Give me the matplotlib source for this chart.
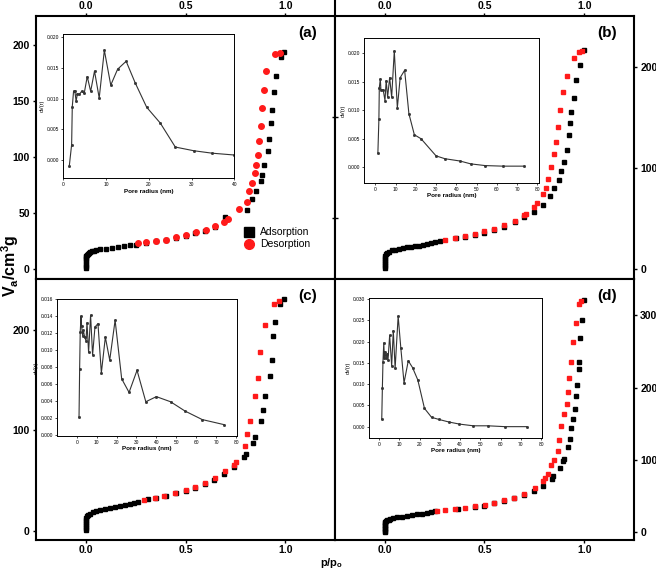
import matplotlib
matplotlib.use("Agg")
import matplotlib.pyplot as plt
from matplotlib.lines import Line2D
import numpy as np

plt.rcParams["font.family"] = ["Liberation Sans", "DejaVu Sans"]

# ---- isotherm data (p/p0, volume) ----
a_ads_p = [0.0, 0.0, 0.0, 0.0, 0.0, 0.0, 0.002, 0.005, 0.01, 0.015, 0.02, 0.03, 0.04, 0.05, 0.07, 0.1,
           0.13, 0.16, 0.19, 0.22, 0.25, 0.3, 0.35, 0.4, 0.45, 0.5, 0.55, 0.6, 0.65, 0.7, 0.81, 0.836,
           0.854, 0.878, 0.886, 0.896, 0.913, 0.921, 0.928, 0.936, 0.945, 0.955, 0.978, 0.993]
a_ads_v = [0.5, 2.5, 4.5, 6.5, 8.5, 10, 11.2, 12.3, 13.2, 14, 14.6, 15.4, 16, 16.5, 17.2, 17.9,
           18.6, 19.4, 20.1, 20.8, 21.5, 22.8, 24.3, 25.6, 27.5, 29.5, 31.8, 34, 37, 46, 52.7, 62.5,
           69, 78, 84, 93, 105, 115.6, 130, 142, 158, 172, 189, 194]
a_des_p = [0.26, 0.30, 0.35, 0.40, 0.451, 0.501, 0.551, 0.601, 0.648, 0.695, 0.712, 0.767, 0.807,
           0.821, 0.834, 0.851, 0.854, 0.863, 0.871, 0.878, 0.886, 0.894, 0.903, 0.951, 0.975]
a_des_v = [22.5, 23.4, 24.9, 26, 28, 30.2, 32.6, 34.7, 37.7, 42, 44, 53, 60, 69.5, 77, 85.6, 93,
           102, 114, 128, 144, 160, 177, 192, 192.5]

b_ads_p = [0, 0, 0, 0, 0, 0, 0, 0.005, 0.01, 0.02, 0.035, 0.05, 0.07, 0.09, 0.11, 0.13, 0.15, 0.17,
           0.19, 0.21, 0.23, 0.25, 0.277, 0.357, 0.4, 0.45, 0.5, 0.55, 0.6, 0.651, 0.698, 0.746, 0.792,
           0.829, 0.85, 0.872, 0.886, 0.898, 0.912, 0.922, 0.927, 0.935, 0.947, 0.96, 0.977, 1.0]
b_ads_v = [0.5, 2.5, 4.5, 6.5, 8.5, 10.5, 12.5, 14.5, 15.8, 17, 18, 18.7, 19.5, 20.3, 21, 21.6, 22.2,
           22.8, 23.5, 24.2, 25, 26, 27.5, 30, 31.5, 33.5, 35.5, 38, 41.5, 46.4, 50.7, 56, 63, 72, 79.5,
           88, 97, 106, 117, 132, 144, 155, 169, 187, 202, 216]
b_des_p = [0.302, 0.352, 0.402, 0.452, 0.498, 0.55, 0.6, 0.651, 0.698, 0.708, 0.746, 0.763, 0.792,
           0.809, 0.819, 0.834, 0.85, 0.859, 0.869, 0.879, 0.895, 0.912, 0.95, 0.975, 0.987]
b_des_v = [28.5, 30, 32, 34.4, 37, 39.7, 43, 47.4, 53, 54.6, 61, 65, 74, 80, 89, 100.7, 113.6, 125,
           139.7, 156.6, 175, 191, 208, 214, 215]

c_ads_p = [0, 0, 0, 0, 0, 0, 0, 0.005, 0.01, 0.02, 0.035, 0.05, 0.07, 0.095, 0.12, 0.145, 0.17, 0.195,
           0.22, 0.24, 0.263, 0.313, 0.35, 0.4, 0.45, 0.5, 0.55, 0.6, 0.645, 0.693, 0.745, 0.794, 0.802,
           0.837, 0.848, 0.879, 0.89, 0.9, 0.925, 0.933, 0.941, 0.951, 0.975, 0.992]
c_ads_v = [0.5, 2.5, 4.5, 6.5, 8.5, 10.5, 12.5, 14.5, 15.8, 17.2, 18.5, 19.5, 20.5, 21.7, 22.8, 23.9,
           25, 26, 27, 27.9, 28.8, 31.5, 33, 35, 37.5, 40, 43, 47, 51, 57, 64, 73.5, 76.5, 87.7, 93.4,
           109, 120.5, 134.4, 154.6, 170.5, 193.7, 208, 226.5, 230.8]
c_des_p = [0.293, 0.347, 0.394, 0.446, 0.5, 0.548, 0.596, 0.648, 0.7, 0.745, 0.754, 0.796, 0.809,
           0.824, 0.851, 0.863, 0.874, 0.901, 0.945, 0.968]
c_des_v = [31, 33, 35, 38, 41, 43.7, 47.7, 52.6, 59.6, 66, 69, 85, 96.7, 109, 134.8, 152.6, 178.5,
           205, 226.5, 229.5]

d_ads_p = [0, 0, 0, 0, 0, 0, 0, 0, 0.005, 0.01, 0.02, 0.028, 0.04, 0.06, 0.085, 0.11, 0.135, 0.16,
           0.185, 0.21, 0.23, 0.25, 0.365, 0.45, 0.5, 0.55, 0.6, 0.65, 0.696, 0.748, 0.792, 0.839,
           0.846, 0.88, 0.892, 0.897, 0.92, 0.928, 0.935, 0.944, 0.952, 0.96, 0.963, 0.972, 0.975,
           0.98, 0.987, 1.0]
d_ads_v = [0.5, 2.5, 4.5, 6.5, 8.5, 10.5, 12.5, 14.5, 15.5, 16.5, 17.3, 18, 19.2, 20.6, 21.6, 22.5,
           23.6, 24.8, 25.9, 27, 28.3, 29.8, 31.7, 35, 37, 40, 43.5, 46.8, 51.4, 56.9, 63.8, 73, 77.5,
           89, 98, 101, 118, 129.4, 144, 157, 171, 188.5, 203.7, 225, 235, 268, 293.6, 320.6]
d_des_p = [0.261, 0.304, 0.354, 0.402, 0.452, 0.502, 0.547, 0.596, 0.648, 0.698, 0.754, 0.792, 0.804,
           0.817, 0.834, 0.85, 0.869, 0.875, 0.885, 0.897, 0.912, 0.917, 0.924, 0.932, 0.942, 0.958,
           0.972, 0.983]
d_des_v = [29.4, 30.7, 31.7, 33.5, 35.8, 37.6, 40.8, 44, 46.8, 53.2, 60.6, 71.6, 75.2, 80.7, 92.7,
           99.5, 112.4, 128, 146.8, 163.8, 177.5, 194.5, 213.3, 235.3, 263.3, 289, 315, 319.7]

# ---- pore size distributions (radius nm, dV(r)) ----
a_r = [1.4, 1.95, 2.1, 2.4, 2.7, 3.0, 3.3, 3.75, 4.3, 4.9, 5.6, 6.4, 7.3, 8.4, 9.6, 11.1, 12.7, 14.7,
       16.8, 19.5, 22.7, 26.2, 30.5, 34.8, 40]
a_dv = [-0.001, 0.0025, 0.0087, 0.0112, 0.0112, 0.0096, 0.0108, 0.0107, 0.0112, 0.0109, 0.0136, 0.0112,
        0.0145, 0.0101, 0.0179, 0.0122, 0.0148, 0.0161, 0.0126, 0.0086, 0.0060, 0.0021, 0.0015, 0.0011,
        0.0008]
b_r = [1.3, 1.8, 2.0, 2.5, 2.8, 3.9, 4.8, 5.4, 6.1, 7.1, 8.1, 9.4, 10.9, 12.3, 14.5, 16.6, 19.3, 22.6,
       30.0, 34.4, 41.8, 47.1, 54.2, 62.9, 73.4]
b_dv = [0.0025, 0.0084, 0.0139, 0.0155, 0.0136, 0.0136, 0.0117, 0.0152, 0.0123, 0.0157, 0.0123, 0.0204,
        0.0104, 0.0157, 0.0170, 0.0094, 0.0057, 0.0050, 0.0020, 0.0015, 0.0011, 0.0006, 0.0003, 0.0002,
        0.0002]
c_r = [1.2, 1.5, 1.8, 2.2, 2.5, 3.0, 3.4, 4.0, 4.7, 5.2, 6.0, 7.0, 8.0, 9.2, 10.7, 12.4, 14.4, 16.6,
       19.3, 22.6, 26.3, 30.3, 34.7, 40.0, 47.1, 54.4, 63.0, 74.0]
c_dv = [0.0021, 0.0077, 0.0121, 0.0140, 0.0128, 0.0117, 0.0123, 0.0115, 0.0111, 0.0132, 0.0097, 0.0141,
        0.0094, 0.0127, 0.0131, 0.0073, 0.0115, 0.0088, 0.0135, 0.0066, 0.0050, 0.0076, 0.0039, 0.0045,
        0.0039, 0.0028, 0.0018, 0.0012]
d_r = [1.3, 1.6, 1.9, 2.3, 2.6, 2.9, 3.4, 3.9, 4.4, 5.2, 6.2, 7.0, 7.9, 9.4, 10.7, 12.3, 14.4, 16.5,
       19.1, 22.4, 25.9, 29.5, 34.4, 39.7, 46.5, 53.8, 62.1, 72.9]
d_dv = [0.0017, 0.0090, 0.0153, 0.0197, 0.0161, 0.0176, 0.0161, 0.0172, 0.0157, 0.0215, 0.0143, 0.0226,
        0.0137, 0.0260, 0.0186, 0.0103, 0.0155, 0.0139, 0.0110, 0.0043, 0.0022, 0.0017, 0.0011, 0.0006,
        0.0002, 0.0002, 0.0000, 0.0000]

W, H = 656, 573
fig = plt.figure(figsize=(W / 100, H / 100), dpi=100)


def box(l, t, r, b):
    return [l / W, 1 - b / H, (r - l) / W, (b - t) / H]


def main_panel(rect, ylim, yticks, yside, xside, label):
    ax = fig.add_axes(box(*rect))
    ax.set_xlim(-0.25, 1.25)
    ax.set_ylim(*ylim)
    ax.set_xticks([0.0, 0.5, 1.0])
    ax.set_yticks(yticks)
    for s in ax.spines.values():
        s.set_linewidth(1.5)
    ax.tick_params(axis="x", direction="out", length=2, width=1, labelsize=7.5, pad=1.5,
                   top=(xside == "top"), bottom=(xside == "bottom"),
                   labeltop=(xside == "top"), labelbottom=(xside == "bottom"))
    ax.tick_params(axis="y", direction="out", length=2.5, width=1, labelsize=7.5, pad=2,
                   left=(yside == "left"), right=(yside == "right"),
                   labelleft=(yside == "left"), labelright=(yside == "right"))
    ax.xaxis.set_major_formatter(plt.FuncFormatter(lambda v, _: f"{v:.1f}"))
    for t in ax.get_xticklabels() + ax.get_yticklabels():
        t.set_fontweight("bold")
    ax.text(0.91, 0.935, label, transform=ax.transAxes, fontsize=11, fontweight="bold",
            ha="center", va="center")
    return ax


def inset(rect, r, dv, xlim, ylim, xticks, yticks):
    ax = fig.add_axes(box(*rect))
    ax.plot(r, dv, color="#333333", lw=0.8, marker="s", ms=1.0)
    ax.set_xlim(*xlim)
    ax.set_ylim(*ylim)
    ax.set_xticks(xticks)
    ax.set_yticks(yticks)
    ax.yaxis.set_major_formatter(plt.FuncFormatter(lambda v, _: f"{v:.3f}"))
    ax.tick_params(labelsize=3.5, length=1.5, width=0.5, pad=1.5)
    for s in ax.spines.values():
        s.set_linewidth(0.7)
    ax.set_xlabel("Pore radius (nm)", fontsize=4.5, fontweight="bold", labelpad=1)
    ax.set_ylabel("dV(r)", fontsize=4, labelpad=1.5)
    return ax


panels = [
    ((36, 16, 335, 279), (-9.3, 226), [0, 50, 100, 150, 200], "left", "top", "(a)", "o",
     a_ads_p, a_ads_v, a_des_p, a_des_v),
    ((335, 16, 634, 279), (-10.2, 250), [0, 100, 200], "right", "top", "(b)", "s",
     b_ads_p, b_ads_v, b_des_p, b_des_v),
    ((36, 279, 335, 540), (-9.2, 251), [0, 100, 200], "left", "bottom", "(c)", "s",
     c_ads_p, c_ads_v, c_des_p, c_des_v),
    ((335, 279, 634, 540), (-10.6, 350), [0, 100, 200, 300], "right", "bottom", "(d)", "s",
     d_ads_p, d_ads_v, d_des_p, d_des_v),
]

axes = []
for rect, ylim, yt, ys, xs, lab, dm, ap, av, dp, dv in panels:
    ax = main_panel(rect, ylim, yt, ys, xs, lab)
    ax.plot(ap, av, ls="none", marker="s", ms=3.3, color="black", zorder=3)
    ax.plot(dp, dv, ls="none", marker=dm, ms=4.0 if dm == "o" else 3.3, color="#ff1a1a",
            mec="#ff1a1a", zorder=4)
    axes.append(ax)

# small crossing ticks on the shared spine of panel (b)
axes[1].set_yticks([50, 150], minor=True)
axes[1].tick_params(which="minor", left=True, direction="inout", length=4, width=1)

handles = [Line2D([], [], ls="none", marker="s", ms=6.5, color="black"),
           Line2D([], [], ls="none", marker="o", ms=7, color="#ff1a1a")]
axes[0].legend(handles, ["Adsorption", "Desorption"], loc="center left",
               bbox_to_anchor=(0.675, 0.155), frameon=False, fontsize=7.5,
               handletextpad=0.4, labelspacing=0.2, handlelength=1.2, borderpad=0)

inset((63.3, 34.3, 234.3, 178.3), a_r, a_dv, (0, 40), (-0.003, 0.0205),
      [0, 10, 20, 30, 40], [0, 0.005, 0.010, 0.015, 0.020])
inset((364.3, 38.3, 539, 182.7), b_r, b_dv, (-5.4, 80.8), (-0.0027, 0.0226),
      range(0, 81, 10), [0, 0.005, 0.010, 0.015, 0.020])
inset((57.3, 299, 236.7, 435.7), c_r, c_dv, (-9.7, 80.3), (-0.0001, 0.016),
      range(0, 81, 10), np.arange(0, 0.0161, 0.002))
inset((369, 298.3, 542.3, 437.7), d_r, d_dv, (-5, 80.6), (-0.0026, 0.0302),
      range(0, 81, 10), [0, 0.005, 0.010, 0.015, 0.020, 0.025, 0.030])

# the shared middle frame line runs up to the top edge
fig.add_artist(Line2D([335 / W, 335 / W], [1 - 16 / H, 1.0], color="black", lw=1.5))

fig.text(10 / W, 1 - 266 / H, r"V$_\mathregular{a}$/cm$^\mathregular{3}$g", rotation=90,
         fontsize=11.5, fontweight="bold", ha="center", va="center")
fig.text(332 / W, 1 - 563 / H, r"p/p$_\mathregular{o}$", fontsize=8, fontweight="bold",
         ha="center", va="center")

fig.savefig("out.png", dpi=100)
